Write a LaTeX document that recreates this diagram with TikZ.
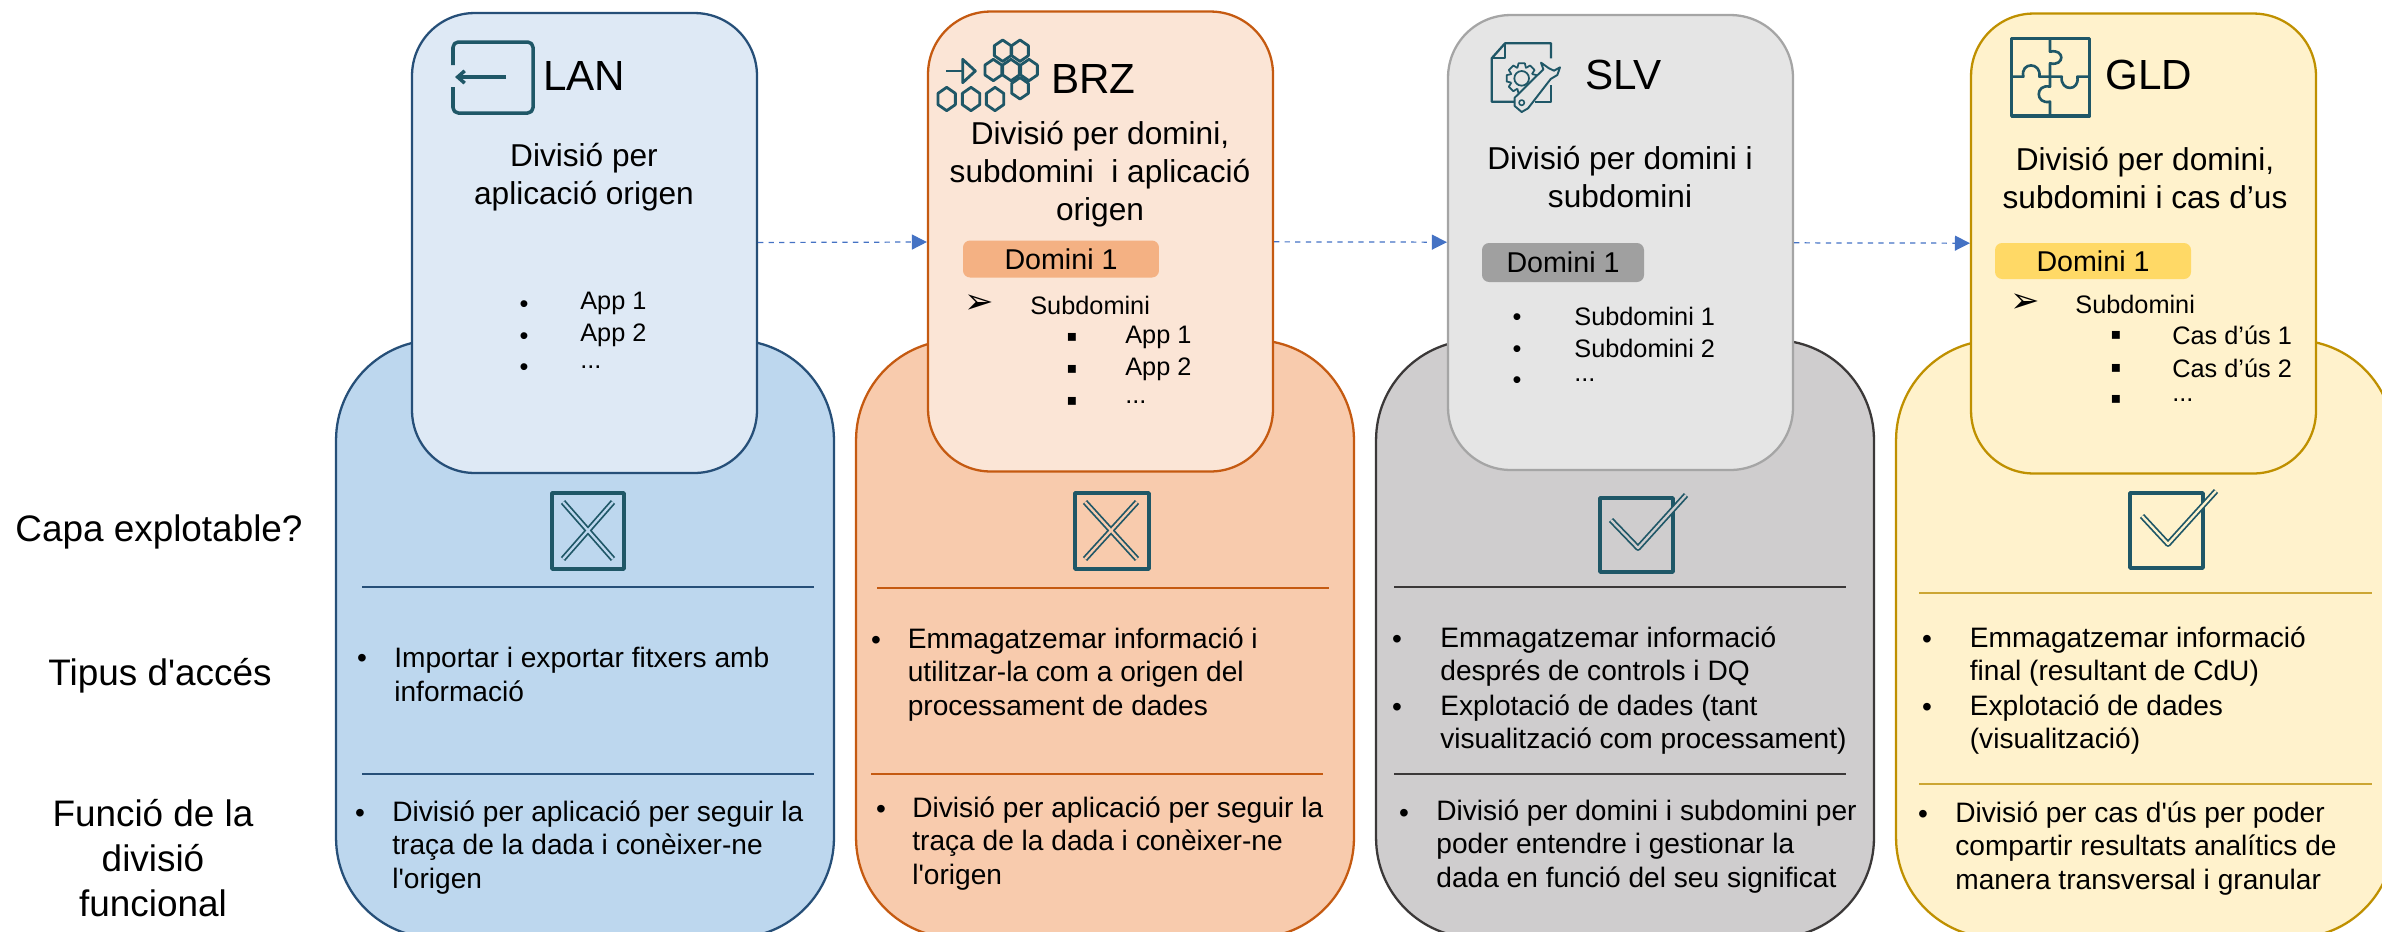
\documentclass[tikz,border=0pt]{standalone}
\usepackage{fontspec}
\setmainfont{Liberation Sans}
\newfontfamily\symbolfont{DejaVu Sans}
\usetikzlibrary{arrows.meta}
\definecolor{lanfill}{HTML}{DEE9F5}
\definecolor{lanback}{HTML}{BDD7EE}
\definecolor{lanline}{HTML}{264F78}
\definecolor{brzfill}{HTML}{FBE5D6}
\definecolor{brzback}{HTML}{F8CBAD}
\definecolor{brzline}{HTML}{C55A11}
\definecolor{brzdom}{HTML}{F4B183}
\definecolor{slvfill}{HTML}{E5E5E5}
\definecolor{slvback}{HTML}{CFCDCE}
\definecolor{slvedge}{HTML}{A5A5A5}
\definecolor{slvline}{HTML}{3B3838}
\definecolor{slvdom}{HTML}{A0A0A0}
\definecolor{gldfill}{HTML}{FFF2CC}
\definecolor{gldline}{HTML}{BF9000}
\definecolor{glddom}{HTML}{FFD966}
\definecolor{icon}{HTML}{1F5767}
\definecolor{flow}{HTML}{4472C4}
\tikzset{
topcard/.style={ % Upper card of each layer
draw, rectangle, inner sep=0pt,
rounded corners=1.25cm,
line width=1.3pt,
minimum width=6.9cm,
minimum height=9.2cm},
backcard/.style={ % Larger card behind it
draw, rectangle, inner sep=0pt,
rounded corners=2cm,
line width=1.3pt,
minimum width=9.96cm,
minimum height=11.96cm},
domainbox/.style={
rectangle, inner sep=0pt,
rounded corners=4pt,
minimum height=0.74cm,
font=\fontsize{16.3}{19}\selectfont},
flowarrow/.style={ % Dashed link between layers
draw=flow,
dashed,
line width=0.7pt,
-{Triangle[length=8.5pt,width=8.5pt]}},
divider/.style={line width=0.8pt},
iconline/.style={draw=icon, line width=2pt, line join=round},
penline/.style={draw=icon, line width=1pt, double distance=1.3pt, line join=round},
titletext/.style={anchor=west, inner sep=0pt, yshift=-1.6pt, font=\fontsize{24}{27}\selectfont},
subtitle/.style={align=center, inner sep=0pt, yshift=-1.6pt, font=\fontsize{18}{21.6}\selectfont},
sidetext/.style={align=center, inner sep=0pt, yshift=-1.6pt, font=\fontsize{21}{25.6}\selectfont},
listtext/.style={anchor=west, inner sep=0pt, yshift=-1pt, font=\fontsize{14.4}{17}\selectfont},
listmark/.style={inner sep=0pt, yshift=-2.5pt, font=\fontsize{14.4}{17}\selectfont},
arrowmark/.style={inner sep=0pt, font=\fontsize{20}{22}\selectfont},
squaremark/.style={inner sep=0pt, yshift=-1pt, font=\fontsize{9}{11}\selectfont},
bodytext/.style={anchor=west, align=left, inner sep=0pt, yshift=-0.8pt, font=\fontsize{16}{19}\selectfont},
bodymark/.style={inner sep=0pt, yshift=-2.5pt, font=\fontsize{16}{19}\selectfont}
}

\begin{document}
\begin{tikzpicture}[x=0.02cm,y=-0.02cm]
\useasboundingbox (0,0) rectangle (2382,931);
\clip (0,0) rectangle (2382,931);

% back cards
\node[backcard, draw=lanline, fill=lanback] (lanback) at (585,639) {};
\node[backcard, draw=brzline, fill=brzback] (brzback) at (1105,639) {};
\node[backcard, draw=slvline, fill=slvback] (slvback) at (1625,639) {};
\node[backcard, draw=gldline, fill=gldfill] (gldback) at (2145,639) {};

% top cards
\node[topcard, draw=lanline, fill=lanfill] (lan) at (584.5,243) {};
\node[topcard, draw=brzline, fill=brzfill] (brz) at (1100.5,241.5) {};
\node[topcard, draw=slvedge, fill=slvfill, minimum height=9.1cm] (slv) at (1620.5,242.5) {};
\node[topcard, draw=gldline, fill=gldfill] (gld) at (2143.5,243.5) {};

\draw[flowarrow] (lan) -- (brz);
\draw[flowarrow] (brz) -- (slv);
\draw[flowarrow] (slv) -- (gld);

% side labels
\node[sidetext] (capa) at (159,529) {Capa explotable?};
\node[sidetext] (tipus) at (160,673) {Tipus d\textquotesingle accés};
\node[sidetext] (funcio) at (153,855) {Funció de la\\divisió\\funcional};

% titles
\node[titletext] (lantitle) at (543,73) {LAN};
\node[titletext] (brztitle) at (1051,76) {BRZ};
\node[titletext] (slvtitle) at (1585,72) {SLV};
\node[titletext] (gldtitle) at (2105,72) {GLD};
\node[subtitle] (lansub) at (584,174) {Divisió per\\aplicació origen};
\node[subtitle] (brzsub) at (1100,171) {Divisió per domini,\\subdomini\ \ i aplicació\\origen};
\node[subtitle] (slvsub) at (1620,174) {Divisió per domini i\\subdomini};
\node[subtitle] (gldsub) at (2145,175) {Divisió per domini,\\subdomini i cas d’us};

% domain tags
\node[domainbox, fill=brzdom, minimum width=3.92cm] (brzdomain) at (1061,259) {Domini 1};
\node[domainbox, fill=slvdom, minimum width=3.24cm, minimum height=0.78cm] (slvdomain) at (1563,262.5) {Domini 1};
\node[domainbox, fill=glddom, minimum width=3.92cm, minimum height=0.72cm] (glddomain) at (2093,261) {Domini 1};

% LAN list
\node[listmark] (lanmark1) at (524,302) {\textbullet};
\node[listmark] (lanmark2) at (524,334) {\textbullet};
\node[listmark] (lanmark3) at (524,365) {\textbullet};
\node[listtext] (lanapp1) at (580,302) {App 1};
\node[listtext] (lanapp2) at (580,334) {App 2};
\node[listtext] (lanapp3) at (580,365) {...};

% BRZ list
\node[arrowmark] (brzmark) at (979,304) {\symbolfont ➢};
\node[listtext] (brzsubd) at (1030,304) {Subdomini};
\node[squaremark] (brzmark1) at (1072,336) {\symbolfont ▪};
\node[squaremark] (brzmark2) at (1072,368) {\symbolfont ▪};
\node[squaremark] (brzmark3) at (1072,400) {\symbolfont ▪};
\node[listtext] (brzapp1) at (1125,336) {App 1};
\node[listtext] (brzapp2) at (1125,368) {App 2};
\node[listtext] (brzapp3) at (1125,400) {...};

% SLV list
\node[listmark] (slvmark1) at (1517,315) {\textbullet};
\node[listmark] (slvmark2) at (1517,347) {\textbullet};
\node[listmark] (slvmark3) at (1517,378) {\textbullet};
\node[listtext] (slvsubd1) at (1574,315) {Subdomini 1};
\node[listtext] (slvsubd2) at (1574,347) {Subdomini 2};
\node[listtext] (slvsubd3) at (1574,378) {...};

% GLD list
\node[arrowmark] (gldmark) at (2025,303) {\symbolfont ➢};
\node[listtext] (gldsubd) at (2075,303) {Subdomini};
\node[squaremark] (gldmark1) at (2116,334) {\symbolfont ▪};
\node[squaremark] (gldmark2) at (2116,367) {\symbolfont ▪};
\node[squaremark] (gldmark3) at (2116,398) {\symbolfont ▪};
\node[listtext] (gldcas1) at (2172,334) {Cas d’ús 1};
\node[listtext] (gldcas2) at (2172,367) {Cas d’ús 2};
\node[listtext] (gldcas3) at (2172,398) {...};

% dividers
\draw[divider, draw=lanline] (362,587) -- (814,587);
\draw[divider, draw=lanline] (362,774) -- (814,774);
\draw[divider, draw=brzline] (877,588) -- (1329,588);
\draw[divider, draw=brzline] (871,774) -- (1323,774);
\draw[divider, draw=slvline] (1394,587) -- (1846,587);
\draw[divider, draw=slvline] (1394,774) -- (1846,774);
\draw[divider, draw=gldline!80] (1919,593) -- (2372,593);
\draw[divider, draw=gldline!80] (1919,784) -- (2372,784);

% access type texts
\node[bodymark] (lanbul1) at (362,657) {\textbullet};
\node[bodytext] (lanacces) at (394,673) {Importar i exportar fitxers amb\\informació};
\node[bodymark] (brzbul1) at (876,639) {\textbullet};
\node[bodytext] (brzacces) at (907.5,673) {Emmagatzemar informació i\\utilitzar-la com a origen del\\processament de dades};
\node[bodymark] (slvbul1) at (1397,638) {\textbullet};
\node[bodytext] (slvacces1) at (1440,655) {Emmagatzemar informació\\després de controls i DQ};
\node[bodymark] (slvbul2) at (1397,706) {\textbullet};
\node[bodytext] (slvacces2) at (1440,723) {Explotació de dades (tant\\visualització com processament)};
\node[bodymark] (gldbul1) at (1927,638) {\textbullet};
\node[bodytext] (gldacces1) at (1969.5,655) {Emmagatzemar informació\\final (resultant de CdU)};
\node[bodymark] (gldbul2) at (1927,706) {\textbullet};
\node[bodytext] (gldacces2) at (1969.5,723) {Explotació de dades\\(visualització)};

% function texts
\node[bodymark] (lanbul2) at (360,812) {\textbullet};
\node[bodytext] (lanfunc) at (392,846) {Divisió per aplicació per seguir la\\traça de la dada i conèixer-ne\\l\textquotesingle origen};
\node[bodymark] (brzbul2) at (881,808) {\textbullet};
\node[bodytext] (brzfunc) at (912,842) {Divisió per aplicació per seguir la\\traça de la dada i conèixer-ne\\l\textquotesingle origen};
\node[bodymark] (slvbul3) at (1404,812) {\textbullet};
\node[bodytext] (slvfunc) at (1436,845) {Divisió per domini i subdomini per\\poder entendre i gestionar la\\dada en funció del seu significat};
\node[bodymark] (gldbul3) at (1923,813) {\textbullet};
\node[bodytext] (gldfunc) at (1955,847) {Divisió per cas d\textquotesingle ús per poder\\compartir resultats analítics de\\manera transversal i granular};

% cross and check icons
\draw[iconline] (552,493) rectangle (624,569);
\draw[penline, double=lanback] (563,502) -- (613,559) (613,502) -- (563,559);
\draw[iconline] (1075,493) rectangle (1149,569);
\draw[penline, double=brzback] (1085,502) -- (1137,559) (1137,502) -- (1085,559);
\draw[iconline] (1600,498) rectangle (1673,572);
\draw[penline, double=slvback] (1611,520) -- (1638,548) -- (1686,495);
\draw[iconline] (2130,493) rectangle (2203,568);
\draw[penline, double=gldfill] (2142,516) -- (2168,544) -- (2216,491);

% LAN icon
\draw[iconline, rounded corners=3pt] (453,65) -- (453,42) -- (533,42) -- (533,113) -- (453,113) -- (453,87);
\draw[iconline, -{Straight Barb[length=4pt,width=7pt]}] (506,77) -- (455,77);

% BRZ icon
\begin{scope}[shift={(930,30)}, scale=1/3]
\draw[iconline, line width=1.6pt] (48,123) -- (98,123);
\draw[iconline, line width=1.6pt] (98,88) -- (136,123) -- (98,158) -- cycle;
\foreach \cx/\cy in {218/62,270/62,190/120,243/120,297/120,270/175}
  \draw[iconline, line width=1.6pt, shift={(\cx,\cy)}] (0,-32) -- (25,-15) -- (25,15) -- (0,32) -- (-25,15) -- (-25,-15) -- cycle;
\foreach \cx/\cy in {50/207,123/207,195/207}
  \draw[iconline, line width=1.6pt, shift={(\cx,\cy)}] (0,-35) -- (26,-17) -- (26,17) -- (0,35) -- (-26,17) -- (-26,-17) -- cycle;
\end{scope}

% SLV icon
\begin{scope}[shift={(1480,30)}, scale=1/3]
\draw[iconline, line width=1.3pt] (213,85) -- (213,40) -- (75,40) -- (35,85) -- (35,215) -- (105,215);
\draw[iconline, line width=1.3pt] (75,40) -- (75,85) -- (35,85);
\draw[iconline, line width=1.3pt] (213,165) -- (213,215) -- (165,215);
\draw[iconline, line width=1pt] (125,145) circle (22);
\foreach \a in {0,45,...,315}
  \draw[iconline, line width=1pt, shift={(125,145)}] (\a-22:34) -- (\a-12:46) -- (\a+12:46) -- (\a+22:34) -- (\a+23:34);
\draw[iconline, line width=1.1pt, fill=slvfill] (104,203) -- (190,118) -- (183,98) -- (207,115) -- (222,122) -- (240,112) -- (232,135) -- (212,147) -- (144,235) -- (125,246) -- (104,228) -- cycle;
\draw[iconline, line width=0.9pt] (125,218) circle (8);
\end{scope}

% GLD icon
\begin{scope}[shift={(2000,30)}, scale=1/3]
\draw[iconline] (35,25) rectangle (268,258);
\draw[iconline, line width=1.5pt] (150,25) -- (150,65) .. controls (195,55) and (195,110) .. (150,100) -- (150,170) .. controls (105,160) and (105,225) .. (150,215) -- (150,258);
\draw[iconline, line width=1.5pt] (35,140) -- (70,140) .. controls (60,95) and (125,95) .. (118,140) -- (185,140) .. controls (180,185) and (240,185) .. (232,140) -- (268,140);
\end{scope}
\end{tikzpicture}
\end{document}
